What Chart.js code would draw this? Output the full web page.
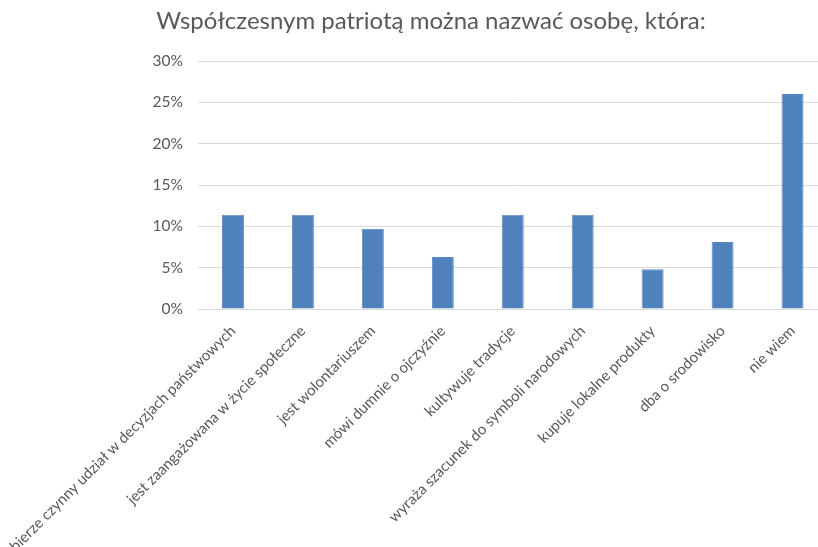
<!DOCTYPE html>
<html>
<head>
<meta charset="utf-8">
<script src="https://cdn.jsdelivr.net/npm/chart.js@4"></script>
<style>
html,body{margin:0;padding:0;background:#fff;overflow:hidden;width:818px;height:547px;}
#wrap{position:absolute;left:0;top:0;width:862px;height:547px;}
#title{position:absolute;left:0;top:5px;width:862px;text-align:center;font-family:Lato,'Open Sans',sans-serif;font-size:24px;line-height:30px;color:#595959;white-space:nowrap;}
</style>
</head>
<body>
<div id="wrap"><canvas id="c" width="862" height="547"></canvas></div>
<div id="title"></div>
<script>
const titleText = "Współczesnym patriotą można nazwać osobę, która:";
const categories = [
  "bierze czynny udział w decyzjach państwowych",
  "jest zaangażowana w życie społeczne",
  "jest wolontariuszem",
  "mówi dumnie o ojczyźnie",
  "kultywuje tradycje",
  "wyraża szacunek do symboli narodowych",
  "kupuje lokalne produkty",
  "dba o srodowisko",
  "nie wiem"
];
const values = [11.4, 11.4, 9.7, 6.3, 11.4, 11.4, 4.8, 8.1, 26.0];
const yTicks = [0, 5, 10, 15, 20, 25, 30];

document.getElementById('title').textContent = titleText;

const textColor = '#595959';
const font = "Lato, 'Open Sans', sans-serif";

new Chart(document.getElementById('c'), {
  type: 'bar',
  data: {
    labels: categories,
    datasets: [{
      data: values,
      backgroundColor: '#4F81BD',
      borderColor: '#5b8bc4',
      borderWidth: 1,
      categoryPercentage: 1,
      barPercentage: 0.314
    }]
  },
  options: {
    responsive: false,
    animation: false,
    layout: { padding: { left: 0, right: 34.5, top: 61, bottom: 0 } },
    plugins: {
      legend: { display: false },
      tooltip: { enabled: false },
      title: { display: false }
    },
    scales: {
      x: {
        grid: { display: false, drawTicks: false },
        border: { display: false },
        ticks: {
          color: textColor,
          font: { family: font, size: 15 },
          minRotation: 45,
          maxRotation: 45,
          autoSkip: false,
          padding: 13
        },
        afterFit: (s) => { s.paddingLeft = 0; s.paddingRight = 0; s.height = 238; }
      },
      y: {
        min: 0,
        max: 30,
        afterBuildTicks: (s) => { s.ticks = yTicks.map(v => ({ value: v })); },
        grid: { color: '#d9d9d9', drawTicks: false, lineWidth: 1 },
        border: { display: false },
        ticks: {
          color: textColor,
          font: { family: font, size: 15.5 },
          padding: 15,
          callback: (v) => v + '%'
        },
        afterFit: (s) => { s.paddingTop = 0; s.paddingBottom = 0; s.width = 198; }
      }
    }
  }
});
</script>
</body>
</html>
